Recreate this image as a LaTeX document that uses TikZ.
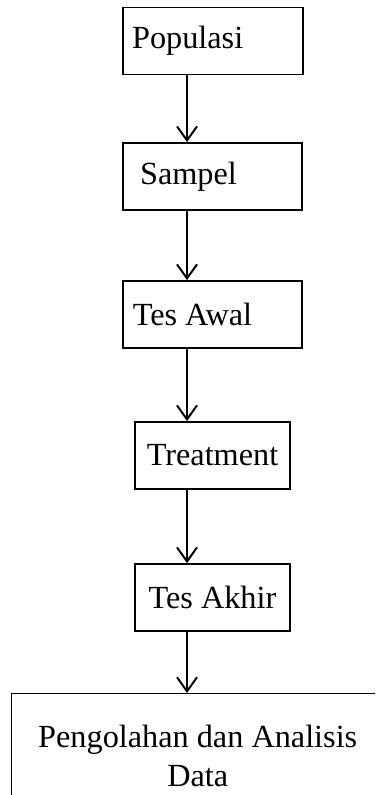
\documentclass[tikz,border=0pt]{standalone}
\usepackage{fontspec}
\setmainfont{Liberation Serif}
\usetikzlibrary{arrows.meta}

\begin{document}
\begin{tikzpicture}[x=0.75pt,y=-0.75pt,
        box/.style={draw, line width=1.1pt, inner sep=0pt, minimum height=50.5pt,
            font=\fontsize{24.2}{29}\selectfont},
        flow/.style={line width=1.5pt, -{Straight Barb[length=10.5pt,width=15pt,line width=1.5pt]}}]
        \clip (0,0) rectangle (375,795);
        \node[box, minimum width=135pt,
            label={[font=\fontsize{24.2}{29}\selectfont, xshift=-19pt]center:Populasi}] (pop) at (213,41) {};
        \node[box, minimum width=134pt,
            label={[font=\fontsize{24.2}{29}\selectfont, xshift=-18pt]center:Sampel}] (smp) at (212.5,176.5) {};
        \node[box, minimum width=134pt,
            label={[font=\fontsize{24.2}{29}\selectfont, xshift=-15pt]center:Tes Awal}] (awl) at (212.5,314.5) {};
        \node[box, minimum width=116pt] (trt) at (212.5,455.5) {Treatment};
        \node[box, minimum width=116pt] (akh) at (212.5,597.5) {Tes Akhir};
        \node[box, minimum width=279pt, minimum height=93pt, align=center,
            anchor=north west] (olah) at (11,693) {Pengolahan dan Analisis\\Data};
        \draw[flow] (pop.south -| 187,0) -- (smp.north -| 187,0);
        \draw[flow] (smp.south -| 187,0) -- (awl.north -| 187,0);
        \draw[flow] (awl.south -| 187,0) -- (trt.north -| 187,0);
        \draw[flow] (trt.south -| 187,0) -- (akh.north -| 187,0);
        \draw[flow] (akh.south -| 187,0) -- (olah.north -| 187,0);
    \end{tikzpicture}
\end{document}
